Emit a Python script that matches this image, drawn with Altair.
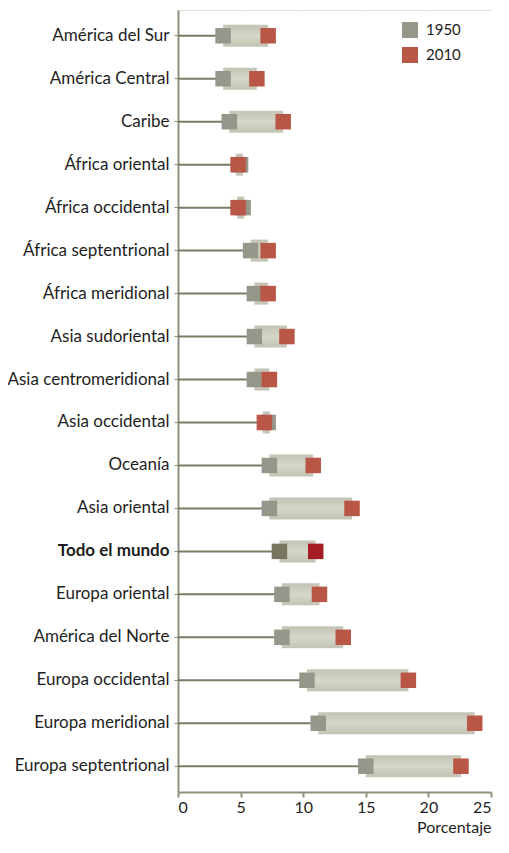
import altair as alt
import pandas as pd

regions = ["América del Sur", "América Central", "Caribe", "África oriental",
           "África occidental", "África septentrional", "África meridional",
           "Asia sudoriental", "Asia centromeridional", "Asia occidental",
           "Oceanía", "Asia oriental", "Todo el mundo", "Europa oriental",
           "América del Norte", "Europa occidental", "Europa meridional",
           "Europa septentrional"]
v1950 = [3.6, 3.6, 4.1, 5.0, 5.2, 5.8, 6.1, 6.1, 6.1, 7.2, 7.3, 7.3, 8.1, 8.3,
         8.3, 10.3, 11.2, 15.0]
v2010 = [7.2, 6.3, 8.4, 4.8, 4.8, 7.2, 7.2, 8.7, 7.3, 6.9, 10.8, 13.9, 11.0,
         11.3, 13.2, 18.4, 23.7, 22.6]
years = ["1950", "2010"]
x_ticks = [0, 5, 10, 15, 20, 25]

wide = pd.DataFrame({"region": regions, "a": v1950, "b": v2010})
rows = []
for yr, vals in zip(years, [v1950, v2010]):
    for r, v in zip(regions, vals):
        key = yr + ("w" if r == "Todo el mundo" else "")
        rows.append({"region": r, "year": yr, "value": v, "key": key})
long = pd.DataFrame(rows)

FONT = "Lato"
yenc = alt.Y("region:N", sort=regions, title=None,
             scale=alt.Scale(paddingInner=0, paddingOuter=0.1),
             axis=alt.Axis(labelFontSize=17, labelColor="#1e1e1e", labelFont=FONT,
                           labelPadding=5, tickSize=4, tickColor="#8f8f7d",
                           domainColor="#8f8f7d", domainWidth=2,
                           labelFontWeight={"condition": {"test": "datum.value == 'Todo el mundo'", "value": "bold"}, "value": "normal"}))
xscale = alt.Scale(domain=[0, 25], nice=False)
xaxis = alt.Axis(values=x_ticks, title="Porcentaje", titleAnchor="end",
                 titleFontSize=16, titleFontWeight="normal", titleFont=FONT,
                 titleColor="#1e1e1e", titlePadding=4,
                 labelFontSize=16, labelFont=FONT, labelColor="#1e1e1e",
                 labelPadding=2,
                 tickSize=5, tickColor="#8f8f7d", tickWidth=2,
                 domainColor="#8f8f7d", domainWidth=2,
                 grid=True, gridColor="#ffffff", gridWidth=2)

base = alt.Chart(wide)

stems = base.mark_rule(color="#7b7b68", strokeWidth=2).encode(
    x=alt.X("zero:Q", scale=xscale, axis=xaxis),
    x2="a:Q",
    y=yenc,
).transform_calculate(zero="0")

grad = alt.Gradient(gradient="linear", x1=0, y1=0, x2=0, y2=1,
                    stops=[alt.GradientStop(offset=0, color="#c3c3b4"),
                           alt.GradientStop(offset=0.5, color="#d6d6c9"),
                           alt.GradientStop(offset=1, color="#c3c3b4")])
bars = base.transform_calculate(
    mid="(datum.a + datum.b) / 2",
    half="max(abs(datum.b - datum.a) / 2, 0.28)",
).transform_calculate(
    lo="datum.mid - datum.half", hi="datum.mid + datum.half"
).mark_bar(color=grad, size=22).encode(
    x=alt.X("lo:Q", scale=xscale, axis=xaxis),
    x2="hi:Q",
    y=yenc,
)

squares = alt.Chart(long).mark_square(size=240, opacity=1).encode(
    x=alt.X("value:Q", scale=xscale, axis=xaxis),
    y=yenc,
    color=alt.Color("key:N",
                    scale=alt.Scale(domain=["1950", "2010", "1950w", "2010w"],
                                    range=["#96968a", "#b95646", "#77765f", "#a51d22"]),
                    legend=alt.Legend(values=years, title=None, orient="none",
                                      legendX=224, legendY=12, symbolType="square",
                                      symbolSize=256, symbolStrokeWidth=0,
                                      labelFontSize=15, labelFont=FONT,
                                      labelColor="#1e1e1e", rowPadding=9,
                                      labelOffset=8)),
)

chart = alt.layer(stems, bars, squares).properties(
    width=313, height=782,
    autosize=alt.AutoSizeParams(type="none"),
    padding={"left": 170, "top": 2, "right": 10, "bottom": 47},
).configure_view(fill="#f0f0e6", stroke=None).configure(background="#ffffff")

chart.save("out.html", embed_options={"renderer": "svg", "actions": False})
